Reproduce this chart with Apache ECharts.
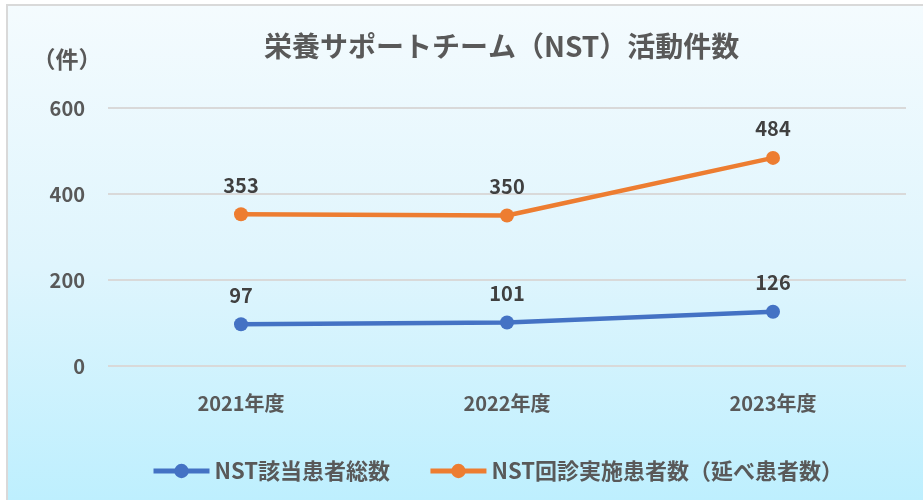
<!DOCTYPE html>
<html>
<head>
<meta charset="utf-8">
<script src="https://cdn.jsdelivr.net/npm/echarts@6/dist/echarts.min.js"></script>
<style>
	html, body { margin: 0; padding: 0; background: #ffffff; }
	#wrap {
		position: absolute; left: 0; top: 0; width: 923px; height: 500px; overflow: hidden;
	}
	#frame {
		position: absolute; left: 6px; top: 4px; width: 940px; height: 520px;
		border-left: 2px solid #d9d9d9; border-top: 2px solid #d9d9d9;
		background: linear-gradient(to bottom, #f4fbfe 0%, #dff5fd 50%, #bdeffe 96%);
	}
	#nstChart { position: absolute; left: 0; top: 0; width: 923px; height: 500px; }
</style>
</head>
<body>
<div id="wrap">
	<div id="frame"></div>
	<div id="nstChart"></div>
</div>
<script>
	var years = ['2021年度', '2022年度', '2023年度'];
	var patientTotal = [97, 101, 126];
	var roundVisits = [353, 350, 484];
	var seriesNames = ['NST該当患者総数', 'NST回診実施患者数（延べ患者数）'];

	var font = '"Noto Sans CJK JP", "Noto Sans", sans-serif';
	var chart = echarts.init(document.getElementById('nstChart'), null, { renderer: 'canvas' });

	function lineSeries(name, values, color) {
		return {
			name: name,
			type: 'line',
			data: values,
			symbol: 'circle',
			symbolSize: 14,
			lineStyle: { width: 4.5, color: color },
			itemStyle: { color: color },
			label: {
				show: true,
				position: 'top',
				distance: 12,
				fontFamily: font,
				fontSize: 20,
				fontWeight: 'bold',
				color: '#404040'
			}
		};
	}

	var option = {
		backgroundColor: 'transparent',
		animation: false,
		title: {
			text: '栄養サポートチーム（NST）活動件数',
			left: 259,
			top: 27,
			textStyle: { fontFamily: font, fontSize: 28, fontWeight: 'bold', color: '#595959' }
		},
		legend: {
			left: 146,
			top: 455,
			itemWidth: 56,
			itemHeight: 18,
			itemGap: 38,
			lineStyle: { width: 5 },
			textStyle: { fontFamily: font, fontSize: 22, fontWeight: 'bold', color: '#595959' },
			data: seriesNames
		},
		grid: { left: 108, right: 17, top: 108, bottom: 134 },
		xAxis: {
			type: 'category',
			data: years,
			axisLine: { show: false },
			axisTick: { show: false },
			axisLabel: { margin: 27, fontFamily: font, fontSize: 20, fontWeight: 'bold', color: '#595959' }
		},
		yAxis: {
			type: 'value',
			min: 0,
			max: 600,
			interval: 200,
			name: '（件）',
			nameLocation: 'end',
			nameGap: 37,
			nameTextStyle: { fontFamily: font, fontSize: 23, fontWeight: 'bold', color: '#595959', align: 'center', padding: [0, 82, 0, 0] },
			axisLine: { show: false },
			axisTick: { show: false },
			splitLine: { lineStyle: { color: '#d9d9d9', width: 2 } },
			axisLabel: { margin: 23, fontFamily: font, fontSize: 20, fontWeight: 'bold', color: '#595959' }
		},
		series: [
			lineSeries(seriesNames[0], patientTotal, '#4472C4'),
			lineSeries(seriesNames[1], roundVisits, '#ED7D31')
		]
	};
	chart.setOption(option);
</script>
</body>
</html>
